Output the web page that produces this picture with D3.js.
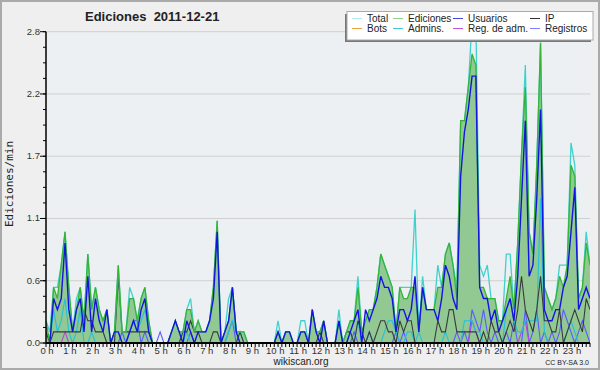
<!DOCTYPE html>
<html>
<head>
    <title>Ediciones 2011-12-21</title>
    <script src="https://d3js.org/d3.v7.min.js"></script>
    <style>
        body { margin: 0; background: #efefef; }
        text { font-family: "Liberation Sans", Arial, sans-serif; fill: #222; }
        .tick-label { font-size: 9.5px; fill: #333; }
        .legend text { font-size: 10px; }
    </style>
</head>
<body>
    <svg width="600" height="370"></svg>

    <script>
        // one value every 10 minutes (6 per hour, 144 total), edits per minute
        const ediciones = [
            0.2, 0.0, 0.5, 0.4, 0.7, 1.0,   0.5, 0.1, 0.3, 0.5, 0.2, 0.8,
            0.3, 0.5, 0.3, 0.2, 0.3, 0.0,   0.1, 0.7, 0.1, 0.1, 0.4, 0.4,
            0.2, 0.4, 0.5, 0.2, 0.0, 0.0,   0.0, 0.0, 0.0, 0.1, 0.2, 0.1,
            0.1, 0.3, 0.3, 0.1, 0.2, 0.1,   0.1, 0.2, 0.5, 1.1, 0.0, 0.1,
            0.2, 0.5, 0.1, 0.1, 0.1, 0.0,   0.0, 0.0, 0.0, 0.0, 0.0, 0.0,
            0.0, 0.1, 0.0, 0.1, 0.1, 0.0,   0.0, 0.1, 0.1, 0.0, 0.3, 0.1,
            0.1, 0.2, 0.0, 0.0, 0.0, 0.2,   0.0, 0.1, 0.2, 0.2, 0.5, 0.1,
            0.2, 0.3, 0.3, 0.5, 0.8, 0.7,   0.6, 0.5, 0.1, 0.5, 0.4, 0.4,
            0.5, 0.5, 0.1, 0.5, 0.3, 0.3,   0.3, 0.5, 0.5, 0.8, 0.9, 0.7,
            0.4, 2.0, 2.0, 2.3, 2.6, 2.5,   0.5, 0.5, 0.4, 0.4, 0.4, 0.2,
            0.2, 0.4, 0.6, 0.3, 0.9, 1.7,   2.3, 1.0, 0.8, 1.6, 2.7, 0.5,
            0.4, 0.3, 0.4, 0.6, 0.5, 0.7,   1.6, 1.5, 0.4, 0.5, 0.9, 0.7
        ];
        const total = [
            0.2, 0.1, 0.5, 0.5, 0.7, 1.0,   0.5, 0.1, 0.4, 0.5, 0.2, 0.8,
            0.3, 0.5, 0.3, 0.2, 0.3, 0.0,   0.1, 0.7, 0.1, 0.1, 0.5, 0.4,
            0.2, 0.4, 0.5, 0.2, 0.0, 0.0,   0.0, 0.0, 0.0, 0.1, 0.2, 0.1,
            0.1, 0.3, 0.4, 0.1, 0.2, 0.1,   0.1, 0.2, 0.5, 1.1, 0.0, 0.1,
            0.4, 0.5, 0.1, 0.1, 0.1, 0.0,   0.0, 0.0, 0.0, 0.0, 0.0, 0.0,
            0.0, 0.2, 0.0, 0.1, 0.1, 0.0,   0.0, 0.2, 0.2, 0.0, 0.3, 0.1,
            0.1, 0.2, 0.0, 0.0, 0.0, 0.3,   0.0, 0.1, 0.2, 0.2, 0.6, 0.1,
            0.2, 0.3, 0.3, 0.5, 0.8, 0.7,   0.6, 0.5, 0.1, 0.5, 0.5, 0.5,
            0.5, 1.2, 0.1, 0.6, 0.3, 0.3,   0.3, 0.7, 0.5, 0.8, 0.9, 0.7,
            0.5, 2.0, 2.0, 2.3, 2.9, 2.9,   0.7, 0.6, 0.7, 0.4, 0.4, 0.2,
            0.2, 0.8, 0.8, 0.3, 0.9, 1.7,   2.5, 1.0, 0.8, 1.6, 2.7, 0.5,
            0.4, 0.3, 0.4, 0.7, 0.7, 0.7,   1.8, 1.6, 0.4, 0.5, 1.0, 0.7
        ];
        const usuarios = [
            0.0, 0.0, 0.4, 0.3, 0.4, 0.9,   0.3, 0.1, 0.3, 0.4, 0.1, 0.6,
            0.1, 0.4, 0.2, 0.1, 0.3, 0.0,   0.1, 0.1, 0.0, 0.0, 0.1, 0.2,
            0.1, 0.3, 0.4, 0.1, 0.0, 0.0,   0.0, 0.0, 0.0, 0.1, 0.2, 0.1,
            0.0, 0.2, 0.1, 0.0, 0.1, 0.1,   0.1, 0.2, 0.4, 1.0, 0.0, 0.1,
            0.2, 0.5, 0.1, 0.0, 0.0, 0.0,   0.0, 0.0, 0.0, 0.0, 0.0, 0.0,
            0.0, 0.1, 0.0, 0.1, 0.1, 0.0,   0.0, 0.1, 0.1, 0.0, 0.3, 0.1,
            0.0, 0.2, 0.0, 0.0, 0.0, 0.2,   0.0, 0.0, 0.1, 0.2, 0.3, 0.0,
            0.3, 0.2, 0.3, 0.4, 0.6, 0.5,   0.5, 0.4, 0.1, 0.3, 0.3, 0.2,
            0.3, 0.6, 0.1, 0.5, 0.3, 0.3,   0.3, 0.2, 0.4, 0.7, 0.6, 0.4,
            0.3, 1.5, 1.9, 2.1, 2.4, 2.4,   0.5, 0.4, 0.4, 0.2, 0.3, 0.1,
            0.2, 0.3, 0.4, 0.2, 0.6, 1.3,   2.0, 0.6, 0.7, 1.3, 2.1, 0.3,
            0.2, 0.2, 0.3, 0.3, 0.5, 0.6,   1.0, 1.4, 0.3, 0.4, 0.5, 0.4
        ];
        const ip = [
            0.1, 0.0, 0.1, 0.1, 0.1, 0.1,   0.1, 0.1, 0.1, 0.1, 0.3, 0.2,
            0.2, 0.1, 0.1, 0.1, 0.0, 0.0,   0.0, 0.6, 0.1, 0.1, 0.1, 0.1,
            0.1, 0.1, 0.1, 0.1, 0.0, 0.0,   0.0, 0.0, 0.0, 0.0, 0.0, 0.0,
            0.1, 0.1, 0.2, 0.1, 0.1, 0.0,   0.0, 0.0, 0.1, 0.1, 0.0, 0.0,
            0.0, 0.0, 0.0, 0.1, 0.0, 0.0,   0.0, 0.0, 0.0, 0.0, 0.0, 0.0,
            0.0, 0.0, 0.0, 0.0, 0.0, 0.0,   0.0, 0.0, 0.0, 0.0, 0.0, 0.0,
            0.1, 0.0, 0.0, 0.0, 0.0, 0.0,   0.0, 0.1, 0.1, 0.0, 0.2, 0.1,
            0.0, 0.1, 0.0, 0.1, 0.2, 0.2,   0.1, 0.1, 0.0, 0.2, 0.1, 0.2,
            0.2, 0.0, 0.0, 0.0, 0.0, 0.0,   0.0, 0.2, 0.1, 0.1, 0.3, 0.3,
            0.1, 0.1, 0.1, 0.1, 0.1, 0.1,   0.0, 0.1, 0.0, 0.2, 0.1, 0.1,
            0.0, 0.1, 0.2, 0.1, 0.3, 0.6,   0.3, 0.2, 0.1, 0.3, 0.6, 0.2,
            0.2, 0.1, 0.1, 0.3, 0.0, 0.1,   0.2, 0.3, 0.2, 0.1, 0.4, 0.3
        ];
        const admins = [
            0.0, 0.0, 0.3, 0.1, 0.2, 0.4,   0.1, 0.0, 0.1, 0.3, 0.0, 0.0,
            0.1, 0.0, 0.0, 0.0, 0.0, 0.0,   0.0, 0.0, 0.0, 0.0, 0.1, 0.2,
            0.1, 0.2, 0.3, 0.1, 0.0, 0.0,   0.0, 0.0, 0.0, 0.0, 0.0, 0.0,
            0.0, 0.1, 0.0, 0.0, 0.0, 0.0,   0.0, 0.0, 0.0, 0.0, 0.0, 0.0,
            0.1, 0.2, 0.1, 0.1, 0.0, 0.0,   0.0, 0.0, 0.0, 0.0, 0.0, 0.0,
            0.0, 0.0, 0.0, 0.0, 0.0, 0.0,   0.0, 0.0, 0.0, 0.0, 0.0, 0.0,
            0.0, 0.0, 0.0, 0.0, 0.0, 0.0,   0.0, 0.0, 0.1, 0.0, 0.2, 0.0,
            0.0, 0.1, 0.0, 0.0, 0.0, 0.1,   0.2, 0.2, 0.1, 0.0, 0.0, 0.1,
            0.1, 0.0, 0.1, 0.0, 0.0, 0.0,   0.0, 0.0, 0.0, 0.1, 0.0, 0.0,
            0.0, 0.0, 0.2, 0.2, 0.2, 0.1,   0.1, 0.0, 0.0, 0.0, 0.0, 0.0,
            0.0, 0.3, 0.4, 0.2, 0.1, 0.1,   0.2, 0.2, 0.2, 0.2, 1.3, 0.1,
            0.0, 0.0, 0.0, 0.0, 0.0, 0.1,   0.2, 0.1, 0.0, 0.0, 0.0, 0.0
        ];
        const registros = [
            0.0, 0.0, 0.0, 0.0, 0.0, 0.0,   0.0, 0.0, 0.0, 0.0, 0.0, 0.0,
            0.0, 0.0, 0.0, 0.0, 0.0, 0.0,   0.0, 0.0, 0.1, 0.0, 0.1, 0.2,
            0.2, 0.0, 0.1, 0.0, 0.0, 0.0,   0.1, 0.0, 0.0, 0.0, 0.0, 0.0,
            0.0, 0.0, 0.1, 0.0, 0.0, 0.0,   0.0, 0.0, 0.0, 0.0, 0.0, 0.0,
            0.1, 0.2, 0.0, 0.0, 0.0, 0.0,   0.0, 0.0, 0.0, 0.0, 0.0, 0.0,
            0.0, 0.0, 0.0, 0.0, 0.0, 0.0,   0.0, 0.0, 0.0, 0.0, 0.0, 0.0,
            0.0, 0.0, 0.0, 0.0, 0.0, 0.0,   0.0, 0.0, 0.0, 0.1, 0.0, 0.0,
            0.0, 0.1, 0.0, 0.0, 0.0, 0.0,   0.0, 0.0, 0.1, 0.0, 0.1, 0.0,
            0.0, 0.0, 0.0, 0.0, 0.0, 0.0,   0.0, 0.0, 0.0, 0.0, 0.0, 0.0,
            0.1, 0.0, 0.1, 0.0, 0.3, 0.2,   0.1, 0.3, 0.1, 0.0, 0.1, 0.0,
            0.0, 0.1, 0.0, 0.2, 0.0, 0.0,   0.3, 0.0, 0.1, 0.3, 0.0, 0.1,
            0.0, 0.1, 0.0, 0.1, 0.3, 0.2,   0.1, 0.0, 0.1, 0.2, 0.1, 0.0
        ];
        const regAdm = [
            0.0, 0.0, 0.0, 0.0, 0.0, 0.1,   0.0, 0.0, 0.0, 0.0, 0.0, 0.0,
            0.0, 0.0, 0.0, 0.0, 0.0, 0.0,   0.0, 0.0, 0.0, 0.0, 0.0, 0.0,
            0.0, 0.0, 0.0, 0.0, 0.0, 0.0,   0.0, 0.0, 0.0, 0.0, 0.0, 0.0,
            0.0, 0.0, 0.0, 0.0, 0.0, 0.0,   0.0, 0.0, 0.0, 0.0, 0.0, 0.0,
            0.0, 0.0, 0.0, 0.0, 0.0, 0.0,   0.0, 0.0, 0.0, 0.0, 0.0, 0.0,
            0.0, 0.0, 0.0, 0.0, 0.0, 0.0,   0.0, 0.0, 0.0, 0.0, 0.0, 0.0,
            0.0, 0.0, 0.0, 0.0, 0.0, 0.0,   0.0, 0.0, 0.0, 0.0, 0.0, 0.0,
            0.0, 0.0, 0.0, 0.0, 0.0, 0.0,   0.0, 0.0, 0.0, 0.0, 0.0, 0.0,
            0.0, 0.0, 0.0, 0.0, 0.0, 0.0,   0.0, 0.0, 0.0, 0.0, 0.0, 0.0,
            0.0, 0.0, 0.0, 0.0, 0.2, 0.1,   0.0, 0.0, 0.0, 0.0, 0.0, 0.0,
            0.0, 0.0, 0.0, 0.0, 0.0, 0.1,   0.2, 0.0, 0.0, 0.0, 0.0, 0.0,
            0.0, 0.0, 0.0, 0.0, 0.0, 0.0,   0.0, 0.0, 0.0, 0.0, 0.0, 0.0
        ];
        const bots = new Array(144).fill(0);  // no bot edits that day

        const horaLabels = ["0 h", "1 h", "2 h", "3 h", "4 h", "5 h", "6 h", "7 h",
            "8 h", "9 h", "10 h", "11 h", "12 h", "13 h", "14 h", "15 h",
            "16 h", "17 h", "18 h", "19 h", "20 h", "21 h", "22 h", "23 h"];
        const yMax = 2.8;

        const legendNames = ["Total", "Ediciones", "Usuarios", "IP",
            "Bots", "Admins.", "Reg. de adm.", "Registros"];
        const legendColors = ["#b4ecec", "#8fd08f", "#4646e6", "#333333",
            "#f0a040", "#44c8dc", "#c050e0", "#7f7fff"];

        const svg = d3.select("svg");
        const plotL = 46, plotR = 590, plotT = 31.7, plotB = 343;

        // background + frame
        svg.append("rect").attr("width", 600).attr("height", 370)
            .attr("fill", "#efefef");
        svg.append("rect").attr("x", plotL).attr("y", plotT)
            .attr("width", plotR - plotL).attr("height", plotB - plotT)
            .attr("fill", "#edf0f2");
        svg.append("rect").attr("x", 1).attr("y", 1)
            .attr("width", 598).attr("height", 368)
            .attr("fill", "none").attr("stroke", "#aaa").attr("stroke-width", 2);

        const x = d3.scaleLinear().domain([0, 143]).range([plotL, plotR]);
        const y = d3.scaleLinear().domain([0, yMax]).range([plotB, plotT]);

        svg.append("defs").append("clipPath").attr("id", "plot")
            .append("rect").attr("x", plotL).attr("y", plotT)
            .attr("width", plotR - plotL).attr("height", plotB - plotT);

        // grid lines
        const major = d3.range(6).map(k => k * yMax / 5);
        svg.append("g").selectAll("line").data(major.slice(1)).enter()
            .append("line")
            .attr("x1", plotL).attr("x2", plotR)
            .attr("y1", d => y(d)).attr("y2", d => y(d))
            .attr("stroke", "#cfcfcf");

        const area = d3.area().x((d, i) => x(i)).y0(y(0)).y1(d => y(d));
        const line = d3.line().x((d, i) => x(i)).y(d => y(d));

        const plot = svg.append("g").attr("clip-path", "url(#plot)");

        plot.append("path").datum(ediciones)
            .attr("d", area).attr("fill", "#92c992");

        const series = [
            [bots, "#f0a040", 1],
            [registros, "#5a5aff", 1.1],
            [regAdm, "#c040e0", 1.1],
            [admins, "#22c0dc", 1.1],
            [ip, "#3a3a3a", 1.1],
            [total, "#3fd2cc", 1.3],
            [ediciones, "#36b436", 1.3],
            [usuarios, "#1414e0", 1.4]
        ];
        series.forEach(s => {
            plot.append("path").datum(s[0])
                .attr("d", line)
                .attr("fill", "none")
                .attr("stroke", s[1])
                .attr("stroke-width", s[2]);
        });

        // y axis
        const yAxis = svg.append("g");
        yAxis.append("line").attr("x1", plotL).attr("x2", plotL)
            .attr("y1", plotT).attr("y2", plotB)
            .attr("stroke", "#000").attr("stroke-width", 1.5);
        yAxis.selectAll(".minor").data(d3.range(21).map(k => k * yMax / 20))
            .enter().append("line")
            .attr("x1", plotL - 3).attr("x2", plotL)
            .attr("y1", d => y(d)).attr("y2", d => y(d))
            .attr("stroke", "#000");
        yAxis.selectAll(".major").data(major).enter().append("line")
            .attr("x1", plotL - 6).attr("x2", plotL)
            .attr("y1", d => y(d)).attr("y2", d => y(d))
            .attr("stroke", "#000");
        yAxis.selectAll("text").data(major).enter().append("text")
            .attr("class", "tick-label")
            .attr("x", plotL - 6).attr("y", d => y(d) + 3)
            .attr("text-anchor", "end")
            .text(d => d3.format(".1f")(d));

        // x axis
        const xAxis = svg.append("g");
        xAxis.selectAll(".minor").data(d3.range(144)).enter().append("line")
            .attr("x1", d => x(d)).attr("x2", d => x(d))
            .attr("y1", plotB).attr("y2", plotB + 4)
            .attr("stroke", "#000");
        xAxis.append("line").attr("x1", plotL).attr("x2", plotR)
            .attr("y1", plotB).attr("y2", plotB)
            .attr("stroke", "#000").attr("stroke-width", 2);
        xAxis.selectAll("text").data(horaLabels).enter().append("text")
            .attr("class", "tick-label")
            .attr("x", (d, i) => x(i * 6) + 1).attr("y", 354)
            .attr("text-anchor", "middle")
            .text(d => d);

        // titles
        svg.append("text").attr("x", 85).attr("y", 21)
            .attr("font-size", 13).attr("font-weight", "bold")
            .style("white-space", "pre")
            .text("Ediciones  2011-12-21");
        svg.append("text")
            .attr("transform", "translate(13,184) rotate(-90)")
            .attr("text-anchor", "middle")
            .style("font-family", "'DejaVu Sans Mono', monospace")
            .attr("font-size", 11)
            .text("Ediciones/min");
        svg.append("text").attr("x", 301).attr("y", 365)
            .attr("text-anchor", "middle").attr("font-size", 10)
            .attr("fill", "#333")
            .text("wikiscan.org");
        svg.append("text").attr("x", 589).attr("y", 365)
            .attr("text-anchor", "end").attr("font-size", 7)
            .attr("fill", "#444")
            .text("CC BY-SA 3.0");

        // legend
        const legend = svg.append("g").attr("class", "legend");
        legend.append("rect").attr("x", 345).attr("y", 14)
            .attr("width", 246).attr("height", 28).attr("fill", "#777");
        legend.append("rect").attr("x", 347).attr("y", 11.5)
            .attr("width", 246).attr("height", 28.5)
            .attr("fill", "#fff").attr("stroke", "#aaa");
        const colX = [352, 393, 453, 530];
        const item = legend.selectAll(".item").data(legendNames).enter()
            .append("g")
            .attr("transform", (d, i) => `translate(${colX[i % 4]},${i < 4 ? 18.5 : 28.5})`);
        item.append("line").attr("x1", 0).attr("x2", 10)
            .attr("stroke", (d, i) => legendColors[i]);
        item.append("text").attr("x", 15).attr("y", 3.5).text(d => d);
    </script>
</body>
</html>
